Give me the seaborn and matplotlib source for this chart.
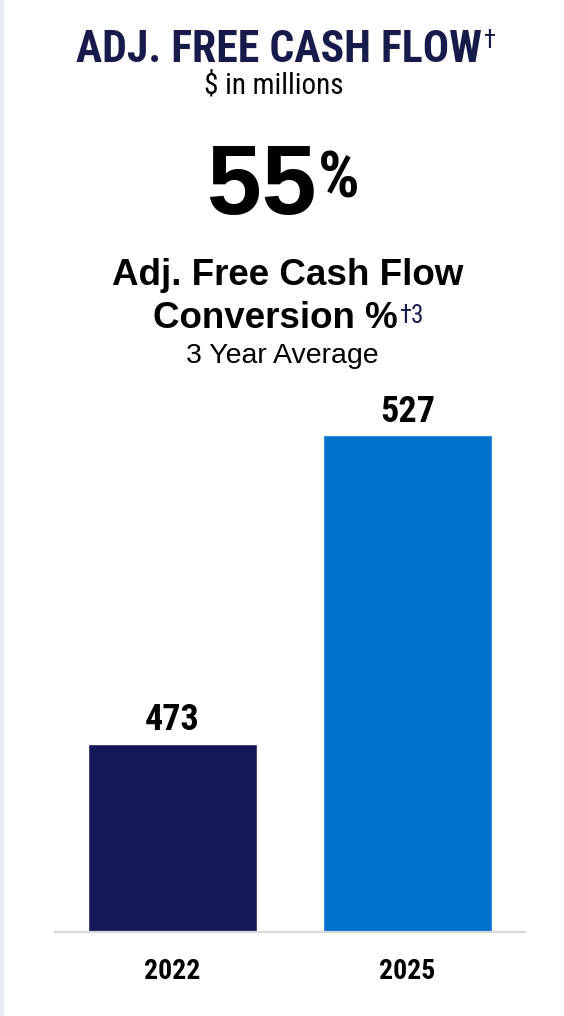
import matplotlib
matplotlib.use('Agg')
import matplotlib.pyplot as plt
import seaborn as sns
import pandas as pd
from matplotlib import font_manager as fm

# ---- data ----
years = ['2022', '2025']
fcf_values = [473, 527]
value_labels = ['473', '527']
bar_colors = ['#131857', '#0070CF']
headline = '55'
title_text = 'ADJ. FREE CASH FLOW'
subtitle_text = '$ in millions'
metric_line1 = 'Adj. Free Cash Flow'
metric_line2 = 'Conversion %'
metric_note = '3 Year Average'

sns.set_theme(style='white')


def pick(fams):
    for f in fams:
        try:
            fm.findfont(fm.FontProperties(family=f), fallback_to_default=False)
            return f
        except Exception:
            pass
    return 'DejaVu Sans'


NARROW = pick(['Liberation Sans Narrow', 'Arial Narrow', 'Roboto Condensed',
               'Archivo Narrow', 'Liberation Sans'])
REG = pick(['Liberation Sans', 'Arial', 'DejaVu Sans'])
plt.rcParams['font.family'] = [NARROW, 'DejaVu Sans']

NAVY = '#161b4b'
W, H = 564, 1016
fig = plt.figure(figsize=(W / 100, H / 100), dpi=100)
fig.patch.set_facecolor('white')


def fx(px):
    return px / W


def fy(py):
    return 1 - py / H


# left border strip
fig.add_artist(plt.Rectangle((0, 0), fx(3.5), 1, transform=fig.transFigure,
                             facecolor='#e6ebf1', edgecolor='none'))

# ---- bars ----
ax = fig.add_axes([fx(55), fy(932), fx(525) - fx(55), fy(400) - fy(932)])
df = pd.DataFrame({'year': years, 'value': fcf_values})
sns.barplot(data=df, x='year', y='value', hue='year', palette=bar_colors,
            width=0.72, saturation=1, legend=False, ax=ax)
ylo = 440
ax.set_ylim(ylo, ylo + (932 - 400) / 5.71)
ax.set_xlim(-0.5, 1.5)
ax.set_xlabel('')
ax.set_ylabel('')
ax.set_yticks([])
for s in ['left', 'right', 'top']:
    ax.spines[s].set_visible(False)
ax.spines['bottom'].set_color('#d9d9d9')
ax.spines['bottom'].set_linewidth(1.6)
ax.tick_params(axis='x', length=0, pad=18.5)
for lab in ax.get_xticklabels():
    lab.set_fontfamily([NARROW, 'DejaVu Sans'])
    lab.set_fontweight('bold')
    lab.set_fontsize(20)
    lab.set_color('black')
ax.patch.set_alpha(0)

for i, (v, t) in enumerate(zip(fcf_values, value_labels)):
    ax.annotate(t, xy=(i, v), xytext=(0, 9.7), textcoords='offset points',
                ha='center', va='baseline', fontsize=26, fontweight='bold',
                color='black', family=[NARROW, 'DejaVu Sans'])

# ---- header texts ----
t_title = fig.text(fx(278.5), fy(61.7), title_text, ha='center', va='baseline',
                   fontsize=31.5, fontweight='bold', color=NAVY,
                   family=[NARROW, 'DejaVu Sans'])
plt.annotate('\u2020', xy=(1, 1), xycoords=t_title, xytext=(1, 0),
             textcoords='offset points', ha='left', va='top', fontsize=18,
             color=NAVY, family=[NARROW, 'DejaVu Sans'],
             annotation_clip=False)

fig.text(fx(273.5), fy(93), subtitle_text, ha='center', va='baseline',
         fontsize=21, color='black', family=[NARROW, 'DejaVu Sans'])

fig.text(fx(316), fy(214), headline, ha='right', va='baseline', fontsize=71,
         fontweight='bold', color='black', family=[REG, 'DejaVu Sans'])
fig.text(fx(318), fy(197), '%', ha='left', va='baseline', fontsize=47,
         fontweight='bold', color='black', family=[NARROW, 'DejaVu Sans'])

fig.text(fx(287.5), fy(285), metric_line1, ha='center', va='baseline',
         fontsize=26.5, fontweight='bold', color='black',
         family=[REG, 'DejaVu Sans'])
t_conv = fig.text(fx(275), fy(328), metric_line2, ha='center', va='baseline',
                  fontsize=26.5, fontweight='bold', color='black',
                  family=[REG, 'DejaVu Sans'])
plt.annotate('\u20203', xy=(1, 1), xycoords=t_conv, xytext=(1.5, -2.5),
             textcoords='offset points', ha='left', va='top', fontsize=18,
             color=NAVY, family=[NARROW, 'DejaVu Sans'],
             annotation_clip=False)
fig.text(fx(282), fy(363), metric_note, ha='center', va='baseline',
         fontsize=20.5, color='black', family=[REG, 'DejaVu Sans'])

fig.savefig('out.png', dpi=100, facecolor='white')
